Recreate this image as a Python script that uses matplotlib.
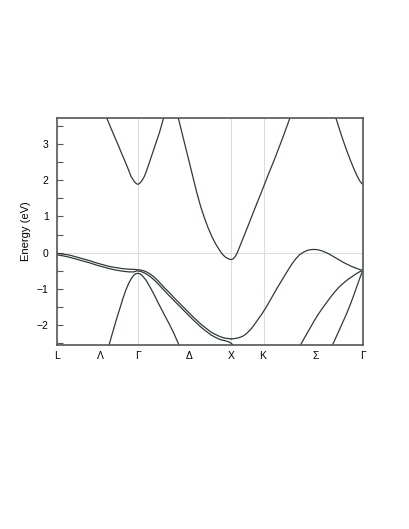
import matplotlib as mpl
mpl.use('Agg')
import matplotlib.pyplot as plt

plt.rcParams['font.family'] = ['Liberation Sans', 'DejaVu Sans']

#k-path positions of labels along L-G-X-K-G
tick_pos = [0.0, 0.461, 0.866, 1.415, 1.866, 2.209, 2.777, 3.281]
tick_lab = ["L", "Λ", "Γ", "Δ", "X", "K", "Σ", "Γ"]
grid_pos = [0.866, 1.866, 2.220]

#conduction band around Gamma (L-G-X)
c1_k = [0.533, 0.575, 0.615, 0.655, 0.695, 0.735, 0.765, 0.795, 0.815, 0.830, 0.843, 0.853, 0.860, 0.866,
        0.872, 0.880, 0.890, 0.902, 0.920, 0.937, 0.950, 0.980, 1.010, 1.040, 1.070, 1.100, 1.143]
c1_e = [3.72, 3.46, 3.22, 2.98, 2.73, 2.49, 2.30, 2.10, 2.02, 1.96, 1.925, 1.905, 1.895, 1.89,
        1.895, 1.905, 1.925, 1.96, 2.03, 2.11, 2.19, 2.41, 2.64, 2.87, 3.10, 3.33, 3.72]

#conduction band through X and K
c2_k = [1.301, 1.35, 1.40, 1.45, 1.50, 1.54, 1.58, 1.62, 1.66, 1.70, 1.74, 1.77, 1.80, 1.83, 1.85, 1.866,
        1.886, 1.906, 1.926, 1.943, 1.98, 2.05, 2.12, 2.195, 2.26, 2.337, 2.42, 2.498]
c2_e = [3.72, 3.21, 2.69, 2.17, 1.65, 1.28, 0.97, 0.69, 0.45, 0.25, 0.08, -0.03, -0.11, -0.16, -0.18, -0.19,
        -0.173, -0.123, -0.04, 0.06, 0.30, 0.75, 1.21, 1.69, 2.12, 2.61, 3.17, 3.72]

#conduction band K-G
c3_k = [2.991, 3.03, 3.07, 3.11, 3.15, 3.19, 3.22, 3.245, 3.265, 3.281]
c3_e = [3.72, 3.40, 3.09, 2.80, 2.53, 2.28, 2.11, 1.99, 1.92, 1.89]

#top valence bands (two close lines) L-G-X
v1a_k = [0.0, 0.07, 0.14, 0.21, 0.28, 0.35, 0.42, 0.49, 0.56, 0.63, 0.70, 0.77, 0.82, 0.866,
         0.90, 0.93, 0.96, 1.00, 1.04, 1.08, 1.12, 1.16, 1.20, 1.25, 1.30, 1.35, 1.40, 1.45,
         1.50, 1.55, 1.60, 1.65, 1.70, 1.75, 1.80, 1.866]
v1a_e = [-0.02, -0.04, -0.07, -0.12, -0.17, -0.22, -0.28, -0.33, -0.38, -0.41, -0.44, -0.455, -0.46, -0.47,
         -0.48, -0.50, -0.53, -0.59, -0.67, -0.77, -0.88, -0.99, -1.09, -1.23, -1.36, -1.49, -1.62, -1.75,
         -1.87, -1.99, -2.09, -2.19, -2.26, -2.32, -2.36, -2.38]
v1b_k = [0.0, 0.07, 0.14, 0.21, 0.28, 0.35, 0.42, 0.49, 0.56, 0.63, 0.70, 0.77, 0.82, 0.866,
         0.90, 0.93, 0.96, 1.00, 1.04, 1.08, 1.12, 1.16, 1.20, 1.25, 1.30, 1.35, 1.40, 1.45,
         1.50, 1.55, 1.60, 1.65, 1.70, 1.75, 1.80, 1.84, 1.866, 1.89]
v1b_e = [-0.06, -0.09, -0.13, -0.18, -0.23, -0.28, -0.34, -0.39, -0.44, -0.48, -0.51, -0.53, -0.53, -0.50,
         -0.52, -0.55, -0.59, -0.66, -0.75, -0.85, -0.96, -1.07, -1.18, -1.31, -1.44, -1.57, -1.70, -1.83,
         -1.95, -2.07, -2.17, -2.27, -2.34, -2.40, -2.43, -2.46, -2.50, -2.55]

#light band around Gamma
lh_k = [0.558, 0.60, 0.64, 0.68, 0.71, 0.74, 0.77, 0.80, 0.825, 0.845, 0.866,
        0.885, 0.905, 0.93, 0.96, 1.00, 1.04, 1.08, 1.12, 1.16, 1.20, 1.25, 1.308]
lh_e = [-2.55, -2.17, -1.82, -1.49, -1.24, -1.02, -0.84, -0.70, -0.62, -0.58, -0.57,
        -0.58, -0.61, -0.68, -0.78, -0.96, -1.15, -1.36, -1.56, -1.76, -1.95, -2.21, -2.55]

#valence X-K-G
v2_k = [1.866, 1.90, 1.93, 1.96, 1.99, 2.02, 2.05, 2.08, 2.11, 2.14, 2.17, 2.20, 2.24, 2.28, 2.32,
        2.36, 2.40, 2.44, 2.48, 2.52, 2.56, 2.60, 2.64, 2.68, 2.72, 2.76, 2.80, 2.84, 2.88,
        2.92, 2.96, 3.00, 3.04, 3.08, 3.12, 3.16, 3.20, 3.24, 3.281]
v2_e = [-2.38, -2.375, -2.36, -2.34, -2.31, -2.26, -2.19, -2.11, -2.01, -1.90, -1.79, -1.68, -1.52, -1.34, -1.16,
        -0.98, -0.81, -0.64, -0.47, -0.31, -0.17, -0.06, 0.01, 0.06, 0.085, 0.09, 0.08, 0.05, 0.01,
        -0.04, -0.10, -0.16, -0.22, -0.28, -0.33, -0.38, -0.42, -0.46, -0.49]

#lower valence bands K-G
v3_k = [2.611, 2.65, 2.69, 2.73, 2.77, 2.81, 2.85, 2.89, 2.93, 2.97, 3.01, 3.05, 3.09,
        3.13, 3.17, 3.21, 3.25, 3.281]
v3_e = [-2.55, -2.37, -2.19, -2.01, -1.83, -1.67, -1.52, -1.38, -1.24, -1.11, -0.99, -0.89, -0.80,
        -0.72, -0.65, -0.58, -0.52, -0.49]
v4_k = [2.954, 2.99, 3.03, 3.07, 3.11, 3.15, 3.19, 3.22, 3.245, 3.265, 3.275, 3.281]
v4_e = [-2.55, -2.35, -2.12, -1.89, -1.66, -1.40, -1.12, -0.90, -0.72, -0.58, -0.52, -0.49]

fig = plt.figure(figsize=(4.09, 5.29), dpi=100)
ax = fig.add_axes([0.1394, 0.3478, 0.748, 0.4291])

for g in grid_pos:
    ax.axvline(g, color="#dddddd", lw=0.8, zorder=0)
ax.axhline(0, color="#dddddd", lw=0.8, zorder=0)

col = "#2d3b3b"
bands = [(c1_k, c1_e), (c2_k, c2_e), (c3_k, c3_e), (v1a_k, v1a_e), (v1b_k, v1b_e),
         (lh_k, lh_e), (v2_k, v2_e), (v3_k, v3_e), (v4_k, v4_e)]
for k, e in bands:
    ax.plot(k, e, color=col, lw=0.9, solid_joinstyle='round')

ax.set_xlim(0, 3.281)
ax.set_ylim(-2.55, 3.72)
ax.set_xticks(tick_pos)
ax.set_xticklabels(tick_lab)
ax.tick_params(axis='x', length=0, pad=4, labelsize=7.5)
ax.set_yticks([-2, -1, 0, 1, 2, 3])
ax.set_yticks([-2.5, -1.5, -0.5, 0.5, 1.5, 2.5, 3.5], minor=True)
ax.tick_params(axis='y', which='both', direction='in', length=4, width=0.8,
               color="#555555", labelsize=7.5, pad=6)
ax.set_ylabel("Energy (eV)", fontsize=8)
for s in ax.spines.values():
    s.set_color("#555555")
    s.set_linewidth(1.2)

plt.savefig("out.png", dpi=100)
